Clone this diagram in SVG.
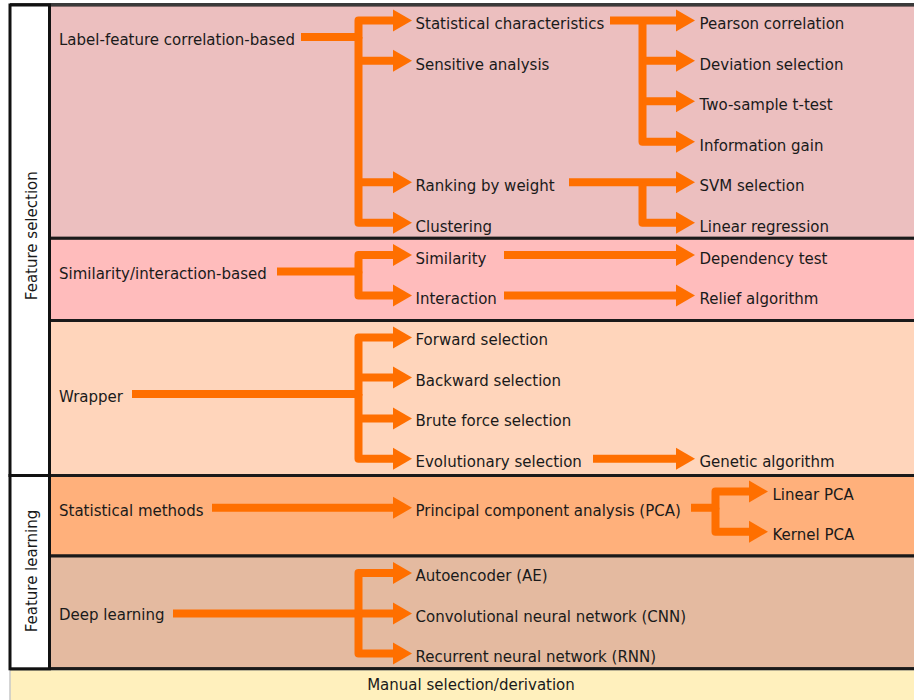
<svg xmlns="http://www.w3.org/2000/svg" width="914" height="700" viewBox="0 0 914 700">
<style>
text{font-family:"DejaVu Sans","Verdana",sans-serif;font-size:15px;fill:#1a1a1a}
.band{stroke:#1a1a1a;stroke-width:3}
.col{fill:#ffffff;stroke:#111;stroke-width:3}
.c{fill:none;stroke:#ff6f00;stroke-width:8;stroke-linejoin:round;stroke-linecap:butt}
.a{marker-end:url(#ah)}
</style>
<defs>
<marker id="ah" markerUnits="userSpaceOnUse" markerWidth="20" markerHeight="24" viewBox="0 0 20 24" refX="0" refY="12" orient="auto">
<path d="M0,1 L19,12 L0,23 Z" fill="#ff6f00"/>
</marker>
</defs>
<rect width="914" height="700" fill="#ffffff"/>
<g id="bands">
<rect class="band" x="49.5" y="5" width="870" height="233.3" fill="#ecbfbf"/>
<rect class="band" x="49.5" y="238.3" width="870" height="82.2" fill="#ffbcbc"/>
<rect class="band" x="49.5" y="320.5" width="870" height="155" fill="#ffd5bb"/>
<rect class="band" x="49.5" y="475.5" width="870" height="80.5" fill="#ffb07b"/>
<rect class="band" x="49.5" y="556" width="870" height="112.8" fill="#e4baa0"/>
<line x1="10" y1="4.5" x2="914" y2="4.5" stroke="#3a3a3a" stroke-width="3"/>
</g>
<g id="manual">
<rect x="10" y="669.5" width="910" height="40" fill="#fff0bd" stroke="#c8c8c8" stroke-width="1.5"/>
<line x1="10" y1="668.8" x2="914" y2="668.8" stroke="#1a1a1a" stroke-width="3"/>
<text x="471" y="690" text-anchor="middle">Manual selection/derivation</text>
</g>
<g id="feature-selection">
<rect class="col" x="10" y="5" width="39.5" height="470.5"/>
<text transform="translate(37,235.7) rotate(-90)" text-anchor="middle">Feature selection</text>
</g>
<g id="feature-learning">
<rect class="col" x="10" y="475.5" width="39.5" height="193.3"/>
<text transform="translate(37,571) rotate(-90)" text-anchor="middle">Feature learning</text>
</g>
<g id="connectors">
<path class="c a" d="M301 37 H358.5 V20.5 H393"/>
<path class="c a" d="M358.5 37 V222.8 H393"/>
<path class="c a" d="M358.5 60.8 H393"/>
<path class="c a" d="M358.5 182.3 H393"/>
<path class="c a" d="M610 20.5 H642.5 H676"/>
<path class="c a" d="M642.5 20.5 V141.8 H676"/>
<path class="c a" d="M642.5 60.8 H676"/>
<path class="c a" d="M642.5 101.3 H676"/>
<path class="c a" d="M569 182.3 H676"/>
<path class="c a" d="M642.5 182.3 V222.8 H676"/>
<path class="c a" d="M277 271.5 H358.5 V255 H393"/>
<path class="c a" d="M358.5 271.5 V295.5 H393"/>
<path class="c a" d="M504 255 H676"/>
<path class="c a" d="M504 295.5 H676"/>
<path class="c a" d="M132 394 H358.5 V337.5 H393"/>
<path class="c a" d="M358.5 394 V458.8 H393"/>
<path class="c a" d="M358.5 377.5 H393"/>
<path class="c a" d="M358.5 418.5 H393"/>
<path class="c a" d="M593 458.8 H676"/>
<path class="c a" d="M212 507.8 H393"/>
<path class="c a" d="M691 507.8 H715.5 V491.5 H749"/>
<path class="c a" d="M715.5 507.8 V531.8 H749"/>
<path class="c a" d="M173 613.6 H393"/>
<path class="c a" d="M358.5 613.6 V573 H393"/>
<path class="c a" d="M358.5 613.6 V653.5 H393"/>
</g>
<g id="label-feature"><text x="59" y="45">Label-feature correlation-based</text></g>
<g id="similarity-interaction"><text x="59" y="278.5">Similarity/interaction-based</text></g>
<g id="wrapper"><text x="59" y="401.7">Wrapper</text></g>
<g id="statistical-methods"><text x="59" y="515.7">Statistical methods</text></g>
<g id="deep-learning"><text x="59" y="619.5">Deep learning</text></g>
<g id="statistical-characteristics"><text x="415.5" y="29">Statistical characteristics</text></g>
<g id="sensitive-analysis"><text x="415.5" y="69.5">Sensitive analysis</text></g>
<g id="ranking-by-weight"><text x="415.5" y="190.7">Ranking by weight</text></g>
<g id="clustering"><text x="415.5" y="231.5">Clustering</text></g>
<g id="similarity"><text x="415.5" y="263.5">Similarity</text></g>
<g id="interaction"><text x="415.5" y="303.5">Interaction</text></g>
<g id="forward-selection"><text x="415.5" y="345">Forward selection</text></g>
<g id="backward-selection"><text x="415.5" y="385.7">Backward selection</text></g>
<g id="brute-force-selection"><text x="415.5" y="426">Brute force selection</text></g>
<g id="evolutionary-selection"><text x="415.5" y="466.7">Evolutionary selection</text></g>
<g id="pca"><text x="415.5" y="515.7">Principal component analysis (PCA)</text></g>
<g id="ae"><text x="415.5" y="580.7">Autoencoder (AE)</text></g>
<g id="cnn"><text x="415.5" y="621.5">Convolutional neural network (CNN)</text></g>
<g id="rnn"><text x="415.5" y="661.7">Recurrent neural network (RNN)</text></g>
<g id="pearson"><text x="699.5" y="29">Pearson correlation</text></g>
<g id="deviation"><text x="699.5" y="69.5">Deviation selection</text></g>
<g id="two-sample"><text x="699.5" y="110">Two-sample t-test</text></g>
<g id="information-gain"><text x="699.5" y="150.5">Information gain</text></g>
<g id="svm"><text x="699.5" y="191">SVM selection</text></g>
<g id="linear-regression"><text x="699.5" y="231.5">Linear regression</text></g>
<g id="dependency-test"><text x="699.5" y="263.5">Dependency test</text></g>
<g id="relief"><text x="699.5" y="303.5">Relief algorithm</text></g>
<g id="genetic"><text x="699.5" y="466.7">Genetic algorithm</text></g>
<g id="linear-pca"><text x="772.5" y="500">Linear PCA</text></g>
<g id="kernel-pca"><text x="772.5" y="540">Kernel PCA</text></g>
</svg>
